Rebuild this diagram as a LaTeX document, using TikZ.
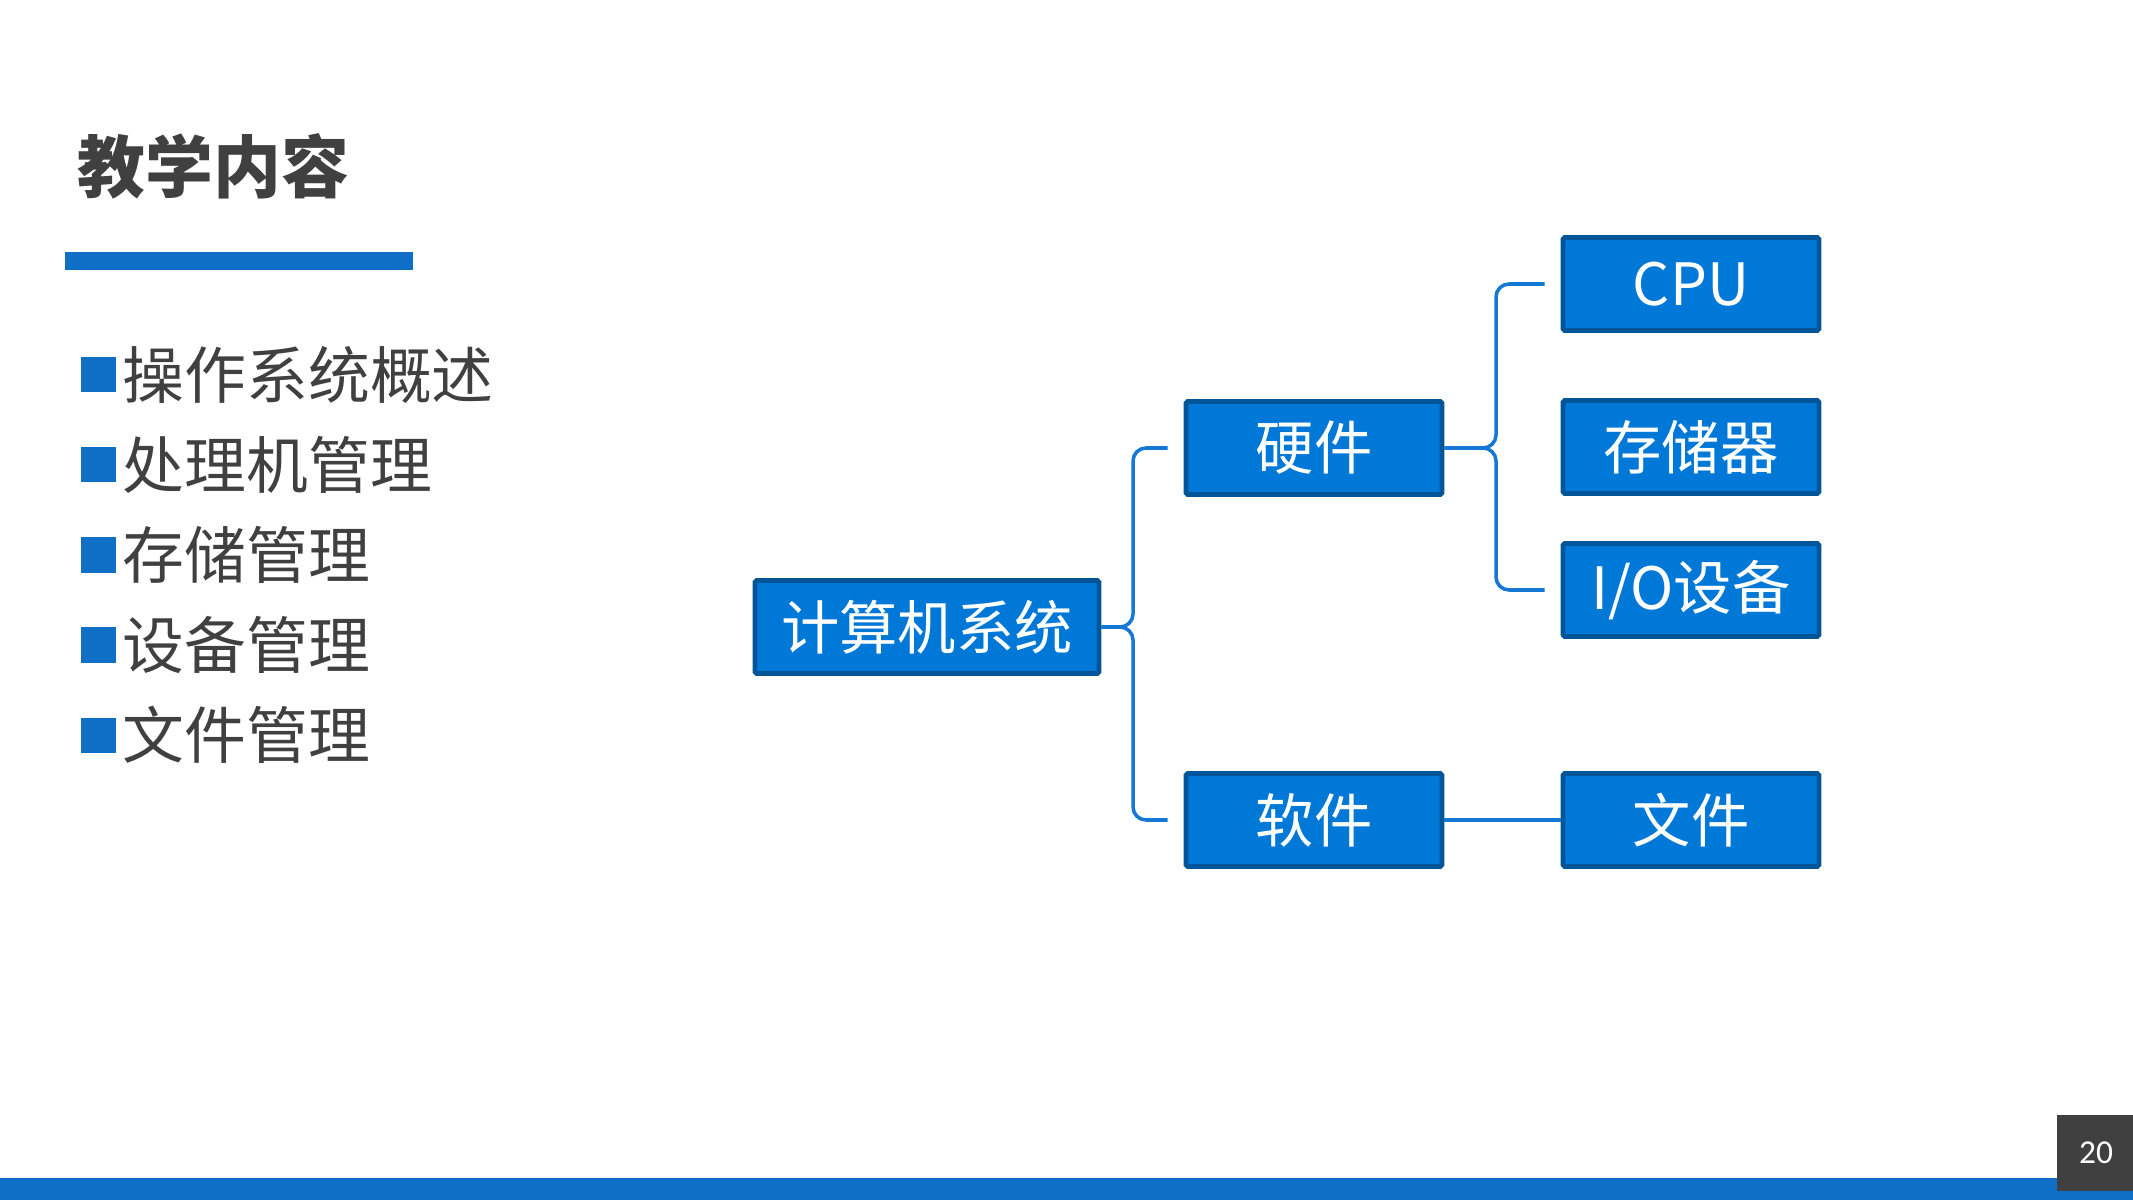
\documentclass[tikz,border=0pt]{standalone}
\usepackage{fontspec}
\newfontfamily\cjk{Noto Sans CJK SC}
\newfontfamily\pagefont{Carlito}
\usepackage{tikz}

\begin{document}
\begin{tikzpicture}[
  box/.style={draw=boxedge, line width=1.4pt, fill=boxblue, text=white, rounded corners=0.5pt,
    font=\cjk\fontsize{16.6}{18}\selectfont, minimum width=2.56cm, minimum height=0.93cm, inner sep=0pt},
  link/.style={draw=linkblue, line width=1pt, rounded corners=1.3mm},
  item/.style={anchor=west, inner sep=0pt, text=textgray, font=\cjk\fontsize{17.6}{20}\selectfont}
]
\definecolor{boxblue}{RGB}{0,120,215}
\definecolor{boxedge}{RGB}{0,84,152}
\definecolor{linkblue}{RGB}{20,120,212}
\definecolor{barblue}{RGB}{15,111,198}
\definecolor{textgray}{RGB}{64,64,64}
\definecolor{pagegray}{RGB}{64,64,64}
\useasboundingbox (0,0) rectangle (21.33,12);
\node[font=\cjk\bfseries\fontsize{19.3}{22}\selectfont, text=textgray, anchor=west, inner sep=0pt] (title) at (0.77,10.34) {教学内容};
\fill[barblue] (0.65,9.30) rectangle (4.13,9.48);
\foreach \t [count=\i] in {操作系统概述,处理机管理,存储管理,设备管理,文件管理}{
  \pgfmathsetmacro\y{9.15-0.9*\i}
  \fill[barblue] (0.81,\y-0.175) rectangle (1.16,\y+0.175);
  \node[item] (item\i) at (1.22,\y) {\t};
}
\node[box, minimum width=3.44cm] (sys) at (9.27,5.73) {计算机系统};
\node[box] (hw) at (13.14,7.52) {硬件};
\node[box] (sw) at (13.14,3.80) {软件};
\node[box] (cpu) at (16.91,9.16) {CPU};
\node[box] (mem) at (16.91,7.53) {存储器};
\node[box] (io) at (16.91,6.10) {I/O设备};
\node[box] (file) at (16.91,3.80) {文件};
\coordinate (s1) at (11.33,5.73);
\coordinate (s2) at (14.96,7.52);
\draw[link, shorten >=1.6mm] (sys.east) -- (s1) |- (hw.west);
\draw[link, shorten >=1.6mm] (sys.east) -- (s1) |- (sw.west);
\draw[link, shorten >=1.6mm] (hw.east) -- (s2) |- (cpu.west);
\draw[link, shorten >=1.6mm] (hw.east) -- (s2) |- (io.west);
\draw[link] (sw) -- (file);
\fill[barblue] (0,0) rectangle (21.33,0.22);
\fill[pagegray] (20.57,0.09) rectangle (21.33,0.85);
\node[font=\pagefont\fontsize{9.5}{11}\selectfont, text=white] (page) at (20.96,0.47) {20};
\end{tikzpicture}
\end{document}
